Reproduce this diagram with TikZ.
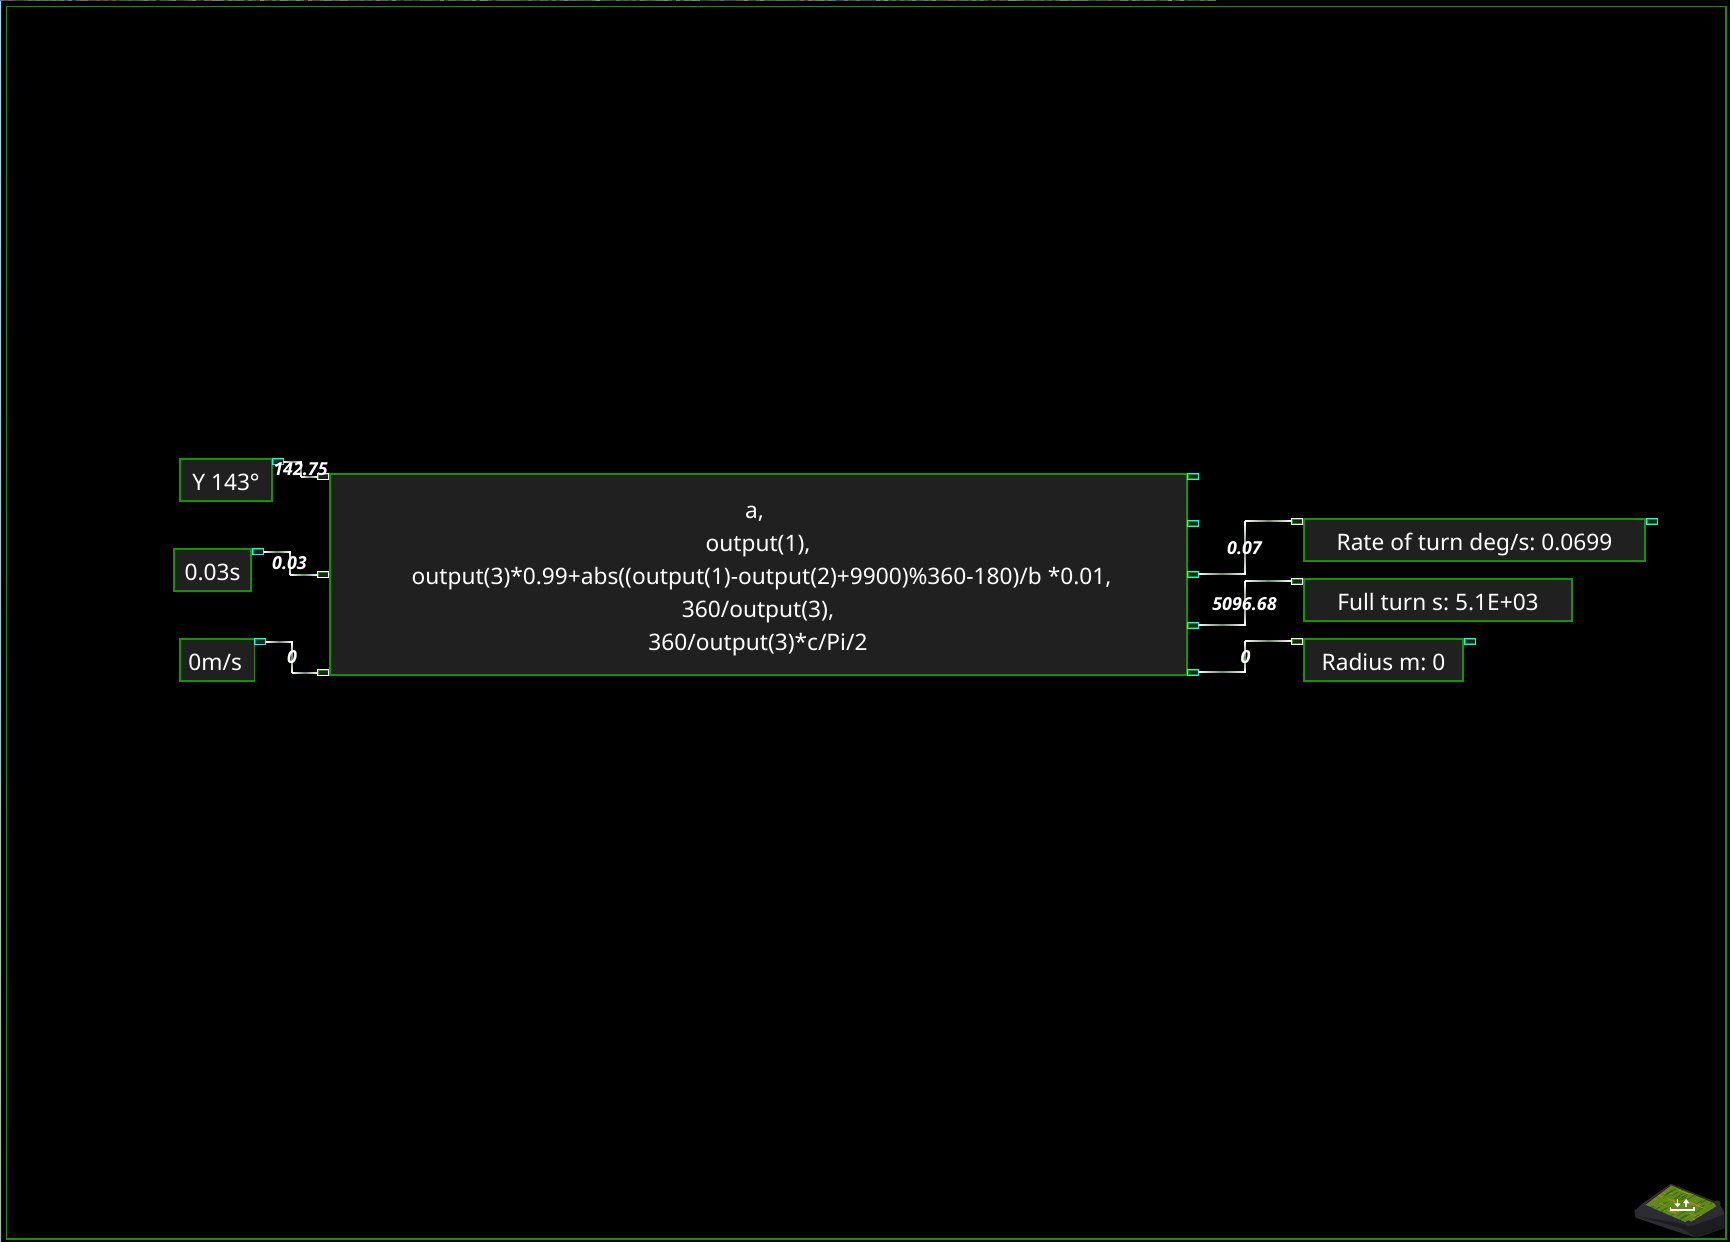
\documentclass[tikz,border=0pt]{standalone}
\usepackage{fontspec}
\setmainfont{Noto Sans}
\newfontfamily\wlfont{Open Sans}
\definecolor{grn}{HTML}{149400}
\definecolor{dark}{HTML}{202020}
\definecolor{cyanp}{HTML}{00FFFF}
\definecolor{wiremid}{HTML}{6A8A6A}
\definecolor{basetop}{HTML}{2C2C32}
\definecolor{baseside}{HTML}{1D1D21}
\definecolor{boardg}{HTML}{5F8A1A}
\definecolor{tracedk}{HTML}{2F6A10}
\definecolor{traceor}{HTML}{C08A20}
\definecolor{leftstrip}{HTML}{A8D8F0}
\tikzset{
  blockbox/.style={draw=grn,fill=dark,line width=1.4pt,inner sep=0pt,outer sep=0pt,text=white,font=\fontsize{22.7}{33.1}\selectfont\frenchspacing},
  outport/.style={draw=cyanp,fill=grn,line width=1pt,inner sep=0pt,outer sep=0pt,minimum width=11.4pt,minimum height=6pt},
  inport/.style={draw=white,fill=grn,line width=1pt,inner sep=0pt,outer sep=0pt,minimum width=11.4pt,minimum height=6pt},
  wirebase/.style={draw=white,line width=1.1pt},
  wirelabel/.style={text=white,inner sep=0pt,font=\wlfont\fontsize{17.9}{18}\selectfont\bfseries\itshape}
}
\usetikzlibrary{calc}
\newcommand{\blk}[7][]{\node[blockbox,minimum width={(#5-#3)*1pt},minimum height={(#6-#4)*1pt},text height=20pt,text depth=0pt,#1] (#2) at ({(#3+#5)/2},{(#4+#6)/2}) {#7};}
\newcommand{\prt}[4]{\node[#1] (#2) at (#3,#4) {}; \fill[dark] ($(#2.south west)+(1.2,-1.2)$) rectangle ($(#2.north east)+(-1.2,1.2)$);}
\newcommand{\wir}[3]{% from, to, midx
  \coordinate (#1m) at (#3,0 |- #1.east);
  \coordinate (#2m) at (#3,0 |- #2.west);
  \draw[wirebase,line join=round] (#1.east) -- (#1m) -- (#2m) -- (#2.west);
  \shade[left color=white,right color=white,middle color=wiremid] ($(#1.east)+(0,-0.55)$) rectangle ($(#1m)+(0,0.55)$);
  \shade[left color=white,right color=white,middle color=wiremid] ($(#2m)+(0,-0.55)$) rectangle ($(#2.west)+(0,0.55)$);
  \shade[top color=white,bottom color=white,middle color=wiremid] ($(#1m)+(-0.55,0)$) rectangle ($(#2m)+(0.55,0)$);
}
\begin{document}
\begin{tikzpicture}[x=1pt,y=-1pt]
\useasboundingbox (0,0) rectangle (1730,1242);
\fill[black] (0,0) rectangle (1730,1242);
% top noise strip and left strip
\pgfmathsetseed{7}
\foreach \i in {0,4,...,1212}{
  \pgfmathsetmacro{\gv}{0.22+0.3*rnd}
  \pgfmathsetmacro{\ra}{\gv+0.2*rnd-0.1}
  \pgfmathsetmacro{\rb}{\gv+0.2*rnd-0.1}
  \pgfmathsetmacro{\rc}{\gv+0.2*rnd-0.1}
  \definecolor{nc}{rgb}{\ra,\rb,\rc}
  \fill[nc] (\i,0) rectangle (\i+4,1.3);
}
\shade[top color=leftstrip,bottom color=gray!60] (0,1.3) rectangle (1.2,1242);
% frame
\draw[grn,line width=1.2pt] (6.5,6.5) rectangle (1726,1239);
% blocks
\blk{ya}{180}{459}{272}{501}{Y 143°}
\blk{dt}{174}{549}{251}{591}{0.03s}
\blk{sp}{180}{639}{254.5}{681}{0m/s\hspace*{4pt}}
\node[blockbox,minimum width=857pt,minimum height=201pt] (expr) at (758.5,574.5) {};
\node[text=white,inner sep=0pt,font=\fontsize{22.7}{33.1}\selectfont\frenchspacing,align=center] (exprtext) at (758,581)
 {a,\hspace*{7pt}\\ output(1),\\ \hspace*{7pt}output(3)*0.99+abs((output(1)-output(2)+9900)\%360-180)/b *0.01,\\ 360/output(3),\\ 360/output(3)*c/Pi/2};
\blk{rate}{1304}{519}{1645}{561}{Rate of turn deg/s: 0.0699}
\blk{full}{1304}{579}{1572}{621}{Full turn s: 5.1E+03}
\blk{radi}{1304}{639}{1463}{681}{Radius m: 0}
% ports
\prt{outport}{yaO}{278}{461.7}
\prt{outport}{dtO}{258}{551.7}
\prt{outport}{spO}{260}{641.7}
\prt{inport}{exI1}{323}{476.7}
\prt{inport}{exI2}{323}{574.7}
\prt{inport}{exI3}{323}{672.7}
\prt{outport}{exO1}{1193}{476.3}
\prt{outport}{exO2}{1193}{523.3}
\prt{outport}{exO3}{1193}{574.3}
\prt{outport}{exO4}{1193}{625.3}
\prt{outport}{exO5}{1193}{672.3}
\prt{inport}{raI}{1297}{521.3}
\prt{inport}{fuI}{1297}{581.3}
\prt{inport}{rdI}{1297}{641.3}
\prt{outport}{raO}{1652}{521.3}
\prt{outport}{rdO}{1470}{641.3}
% wires
\wir{yaO}{exI1}{301}
\wir{dtO}{exI2}{290}
\wir{spO}{exI3}{292}
\wir{exO3}{raI}{1245}
\wir{exO4}{fuI}{1245}
\wir{exO5}{rdI}{1245}
% labels
\node[wirelabel] (l1) at (300.5,469.5) {142.75};
\node[wirelabel] (l2) at (289.5,563) {0.03};
\node[wirelabel] (l3) at (292,657) {0};
\node[wirelabel] (l4) at (1244.5,548) {0.07};
\node[wirelabel] (l5) at (1244.5,604) {5096.68};
\node[wirelabel] (l6) at (1245.5,657) {0};
% icon
\begin{scope}[shift={(1625,1175)},x=0.3333pt,y=-0.3333pt]
  \fill[basetop] (28,108) -- (52,86) -- (138,26) -- (282,84) -- (298,112) -- (298,160) -- (215,188) -- (150,168) -- (32,128) -- cycle;
  \fill[baseside] (32,122) -- (170,160) -- (215,188) -- (298,160) -- (298,118) -- (205,152) -- cycle;
  \begin{scope}
    \clip (135,30) -- (58,88) -- (190,145) -- (280,90) -- cycle;
    \fill[boardg] (0,0) rectangle (300,200);
    \pgfmathsetseed{11}
    \foreach \k in {1,...,70}{
      \pgfmathsetmacro{\px}{60+220*rnd}
      \pgfmathsetmacro{\py}{30+110*rnd}
      \pgfmathsetmacro{\ql}{12+22*rnd}
      \pgfmathtruncatemacro{\qc}{rnd>0.5?1:0}
      \ifnum\qc=1
        \draw[traceor,line width=0.7pt] (\px,\py) -- ++(\ql,0.4*\ql);
      \else
        \draw[tracedk,line width=0.8pt] (\px,\py) -- ++(-\ql,0.6*\ql);
      \fi
    }
    \draw[violet!60!black,line width=1.8pt] (135,30) -- (58,88);
  \end{scope}
  \fill[gray!35!black] (190,145) circle[radius=9];
  \fill[gray!35!black] (278,85) circle[radius=9];
  \draw[white,line width=1.1pt] (136,96) -- (136,105) -- (207,105) -- (207,96);
  \fill[white] (155,73) rectangle (160,87);
  \fill[white] (148,85) -- (167,85) -- (157.5,97) -- cycle;
  \fill[white] (181,82) rectangle (186,96);
  \fill[white] (174,84) -- (193,84) -- (183.5,72) -- cycle;
\end{scope}
\end{tikzpicture}
\end{document}
